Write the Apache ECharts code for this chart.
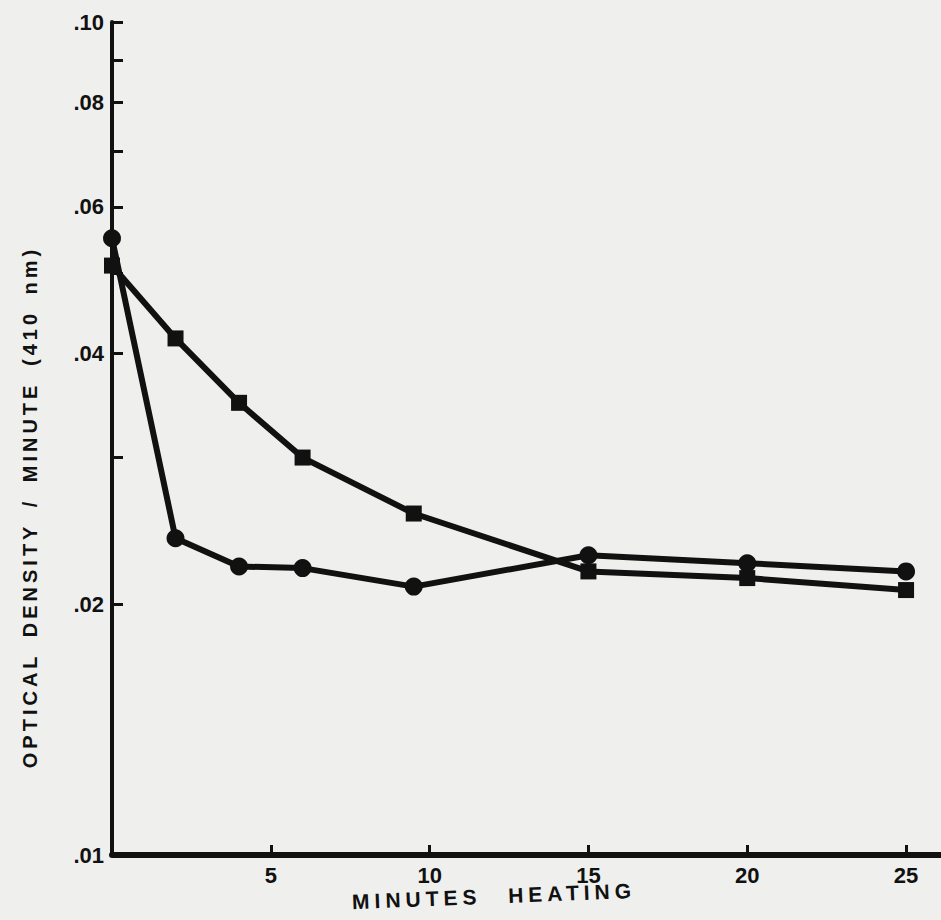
<!DOCTYPE html>
<html>
<head>
<meta charset="utf-8">
<script src="https://cdn.jsdelivr.net/npm/echarts@6/dist/echarts.min.js"></script>
<style>
  html, body { margin: 0; padding: 0; background: #efefed; }
  #main { width: 941px; height: 920px; }
</style>
</head>
<body>
<div id="main"></div>
<script>
// minutes of heating
const minutes = [0, 2, 4, 6, 9.5, 15, 20, 25];
// circles
const circleValues = [0.055, 0.024, 0.0222, 0.0221, 0.021, 0.0229, 0.0224, 0.0219];
// squares
const squareValues = [0.051, 0.0417, 0.0349, 0.030, 0.0257, 0.0219, 0.0215, 0.0208];

const yTicks = [0.01, 0.02, 0.03, 0.04, 0.05, 0.06, 0.07, 0.08, 0.09, 0.1];
const yLabels = [0.01, 0.02, 0.04, 0.06, 0.08, 0.1];
const xLabels = [5, 10, 15, 20, 25];

const yName = 'OPTICAL DENSITY / MINUTE (410 nm)';
const xName = 'MINUTES HEATING';

const ink = '#111';
const labelFont = { color: ink, fontSize: 22, fontWeight: 'bold', fontFamily: 'Liberation Sans' };

function pairs(xs, ys) {
    return xs.map((x, i) => [x, ys[i]]);
}

let option = {
    backgroundColor: '#efefed',
    animation: false,
    grid: { left: 112, right: 0, top: 22, bottom: 65 },
    xAxis: {
        type: 'value',
        min: 0,
        max: 26.1,
        axisLine: { lineStyle: { color: ink, width: 6 } },
        axisTick: { inside: true, length: 10, lineStyle: { color: ink, width: 3 }, customValues: xLabels },
        axisLabel: Object.assign({ margin: 9, customValues: xLabels }, labelFont),
        splitLine: { show: false }
    },
    yAxis: {
        type: 'log',
        logBase: 10,
        min: 0.01,
        max: 0.1,
        axisLine: { show: true, lineStyle: { color: ink, width: 4 } },
        axisTick: { show: true, inside: true, length: 11, lineStyle: { color: ink, width: 3 }, customValues: yTicks },
        axisLabel: Object.assign({
            margin: 8,
            customValues: yLabels,
            formatter: v => Number(v).toFixed(2).slice(1)
        }, labelFont),
        splitLine: { show: false },
        minorTick: { show: false }
    },
    series: [
        {
            name: 'circles',
            type: 'line',
            data: pairs(minutes, circleValues),
            symbol: 'circle',
            symbolSize: 18,
            lineStyle: { color: ink, width: 6 },
            itemStyle: { color: ink }
        },
        {
            name: 'squares',
            type: 'line',
            data: pairs(minutes, squareValues),
            symbol: 'rect',
            symbolSize: 16,
            lineStyle: { color: ink, width: 6 },
            itemStyle: { color: ink }
        }
    ],
    graphic: [
        {
            type: 'text',
            id: 'yname',
            x: 30,
            y: 507,
            rotation: Math.PI / 2,
            style: {
                text: yName,
                fill: ink,
                font: 'bold 20px "Liberation Sans"',
                textAlign: 'center',
                textVerticalAlign: 'middle'
            }
        },
        {
            type: 'text',
            id: 'xname',
            x: 494,
            y: 896,
            rotation: 0.04,
            style: {
                text: xName,
                fill: ink,
                font: 'bold 21px "Liberation Sans"',
                textAlign: 'center',
                textVerticalAlign: 'middle'
            }
        }
    ]
};

let myChart = echarts.init(document.getElementById('main'), null, { renderer: 'svg' });
myChart.setOption(option);

// the printed axis titles are letter-spaced
function spaceTitles() {
    document.querySelectorAll('#main text').forEach(t => {
        if (t.textContent === yName) {
            t.setAttribute('letter-spacing', '4');
            t.setAttribute('word-spacing', '6');
        } else if (t.textContent === xName) {
            t.setAttribute('letter-spacing', '5');
            t.setAttribute('word-spacing', '16');
        }
    });
}
spaceTitles();
myChart.on('finished', spaceTitles);
</script>
</body>
</html>
